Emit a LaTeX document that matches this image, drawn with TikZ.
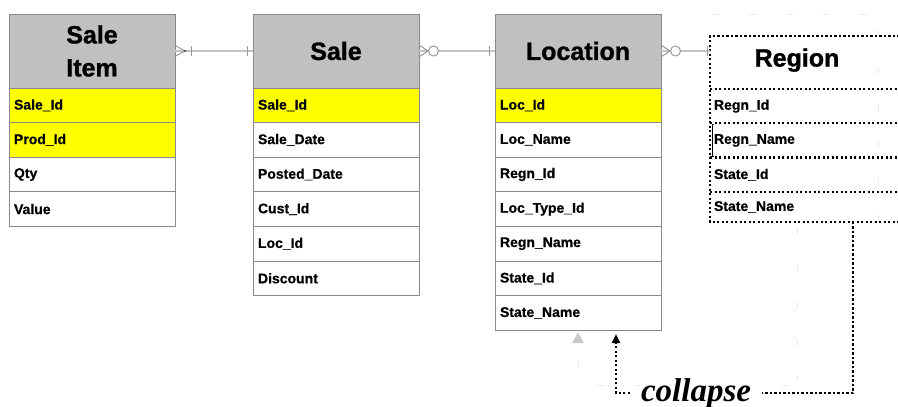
\documentclass[tikz,border=0pt]{standalone}
\usepackage{fontspec}
\setmainfont{Liberation Sans}
\newfontfamily\labelserif{Liberation Serif}
\newfontfamily\heavyfont{Liberation Sans Bold}[FakeBold=1.1]
\newfontfamily\fieldfont{Liberation Sans Bold}[FakeBold=0.6]
\usetikzlibrary{arrows.meta,positioning}

\definecolor{hdrgray}{HTML}{C0C0C0}
\definecolor{boxline}{HTML}{8A8A8A}
\definecolor{keyyellow}{HTML}{FFFF00}
\definecolor{relline}{HTML}{C4C4C4}
\definecolor{footline}{HTML}{9A9A9A}
\definecolor{ghostline}{HTML}{EBEBEB}
\definecolor{hintgray}{HTML}{C8C8C8}

\begin{document}
\begin{tikzpicture}[x=1pt,y=-1pt,
  hdr/.style={draw=boxline, line width=0.9pt, fill=hdrgray, outer sep=0pt,
    minimum width=166pt, minimum height=74pt, inner sep=0pt,
    anchor=north west, align=center,
    font=\heavyfont\fontsize{25}{33}\selectfont},
  field/.style={draw=boxline, line width=0.9pt, fill=white, outer sep=0pt,
    minimum width=166pt, minimum height=34.6pt, text width=156pt,
    inner xsep=5pt, inner ysep=0pt, align=left,
    font=\fieldfont\fontsize{14}{16}\selectfont},
  keyfield/.style={field, fill=keyyellow},
  dotline/.style={line width=2.3pt, dash pattern=on 2.3pt off 2.2pt, black},
  rhdr/.style={outer sep=0pt, minimum width=194pt, minimum height=53pt,
    inner sep=0pt, anchor=north west, font=\heavyfont\fontsize{25}{30}\selectfont},
  rfield/.style={outer sep=0pt, minimum width=194pt, minimum height=34.3pt,
    text width=186pt, inner xsep=4pt, inner ysep=0pt, align=left,
    font=\fieldfont\fontsize{14}{16}\selectfont},
  rel/.style={relline, line width=1.4pt},
  foot/.style={footline, line width=1pt},
  ghost/.style={ghostline, line width=1pt, dash pattern=on 7pt off 30pt}
]
\useasboundingbox (0,0) rectangle (898,407);

% faint outline left behind by the moved table
\draw[ghost] (712,14) -- (880,14);
\draw[ghost] (878,30) -- (878,225);
\draw[ghost] (797,228) -- (797,380);
\draw[ghost] (597,385) -- (790,385);
\draw[ghost] (578,360) -- (578,385);

% ---------- Sale Item ----------
\node[hdr] (siHead) at (9,14) {Sale\\Item};
\node[keyfield, below=0pt of siHead] (si1) {Sale\_Id};
\node[keyfield, below=0pt of si1] (si2) {Prod\_Id};
\node[field, below=0pt of si2] (si3) {Qty};
\node[field, below=0pt of si3] (si4) {Value};

% ---------- Sale ----------
\node[hdr] (saHead) at (253,14) {Sale};
\node[keyfield, below=0pt of saHead] (sa1) {Sale\_Id};
\node[field, below=0pt of sa1] (sa2) {Sale\_Date};
\node[field, below=0pt of sa2] (sa3) {Posted\_Date};
\node[field, below=0pt of sa3] (sa4) {Cust\_Id};
\node[field, below=0pt of sa4] (sa5) {Loc\_Id};
\node[field, below=0pt of sa5] (sa6) {Discount};

% ---------- Location ----------
\node[hdr] (loHead) at (495,14) {Location};
\node[keyfield, below=0pt of loHead] (lo1) {Loc\_Id};
\node[field, below=0pt of lo1] (lo2) {Loc\_Name};
\node[field, below=0pt of lo2] (lo3) {Regn\_Id};
\node[field, below=0pt of lo3] (lo4) {Loc\_Type\_Id};
\node[field, below=0pt of lo4] (lo5) {Regn\_Name};
\node[field, below=0pt of lo5] (lo6) {State\_Id};
\node[field, below=0pt of lo6] (lo7) {State\_Name};

% ---------- Region (dotted, being collapsed) ----------
\node[rhdr] (rgHead) at (710,36) {\hspace*{-20pt}\raisebox{10pt}{Region}};
\node[rfield, below=0pt of rgHead] (rg1) {Regn\_Id};
\node[rfield, below=0pt of rg1] (rg2) {Regn\_Name};
\node[rfield, below=0pt of rg2] (rg3) {State\_Id};
\node[rfield, below=0pt of rg3, minimum height=30pt] (rg4) {State\_Name};
% dotted outline and row separators
\draw[dotline] (rgHead.north east) -- (rgHead.north west) -- (rg4.south west) -- (rg4.south east);
\foreach \r in {rg1,rg2,rg3,rg4}
  \draw[dotline] (\r.north west) -- (\r.north east);
\draw[black, line width=0.7pt]
  ([xshift=4pt,yshift=-1.5pt]rg2.north west) -- ([xshift=2pt,yshift=-1.5pt]rg2.north west)
  -- ([xshift=2pt,yshift=1.5pt]rg2.south west) -- ([xshift=4pt,yshift=1.5pt]rg2.south west);

% ---------- relationships ----------
% Sale Item >|---|| Sale
\draw[rel] (siHead.east) -- (saHead.west);
\draw[foot] ([yshift=5.5pt]siHead.east) -- ([xshift=10pt]siHead.east) -- ([yshift=-5.5pt]siHead.east);
\fill[black] ([xshift=10pt]siHead.east) circle (0.9pt);
\draw[foot] ([xshift=16pt,yshift=5pt]siHead.east) -- ([xshift=16pt,yshift=-5pt]siHead.east);
\draw[foot] ([xshift=-6pt,yshift=5pt]saHead.west) -- ([xshift=-6pt,yshift=-5pt]saHead.west);

% Sale >O---| Location
\draw[rel] (saHead.east) -- (loHead.west);
\draw[foot] ([yshift=6pt]saHead.east) -- ([xshift=9pt]saHead.east) -- ([yshift=-6pt]saHead.east);
\draw[foot, fill=white] ([xshift=14.5pt]saHead.east) circle (5pt);
\draw[foot] ([xshift=-6pt,yshift=5pt]loHead.west) -- ([xshift=-6pt,yshift=-5pt]loHead.west);

% Location >O---| Region
\draw[rel] (loHead.east) -- ([yshift=-15pt]rgHead.north west);
\draw[foot] ([yshift=6pt]loHead.east) -- ([xshift=9pt]loHead.east) -- ([yshift=-6pt]loHead.east);
\draw[foot, fill=white] ([xshift=14.5pt]loHead.east) circle (5pt);
\draw[foot] ([xshift=-3pt,yshift=-10pt]rgHead.north west) -- ([xshift=-3pt,yshift=-20pt]rgHead.north west);

% hint marker below Location
\fill[hintgray] ([xshift=-6pt,yshift=-13pt]lo7.south) -- ([xshift=6pt,yshift=-13pt]lo7.south)
  -- ([yshift=-2pt]lo7.south) -- cycle;

% ---------- collapse connector ----------
\node[anchor=base, inner xsep=11pt, inner ysep=0pt,
  font=\labelserif\fontsize{33}{36}\selectfont\bfseries\itshape] (clps) at (696,401) {collapse};
\coordinate (rgDrop) at ([xshift=143pt]rg4.south west);
\coordinate (loTip) at ([xshift=-45pt,yshift=-4pt]lo7.south east);
\draw[dotline] (rgDrop) |- (clps.east);
\draw[dotline, -{Triangle[length=9pt,width=8pt]}] (clps.west) -| (loTip);

\end{tikzpicture}
\end{document}
